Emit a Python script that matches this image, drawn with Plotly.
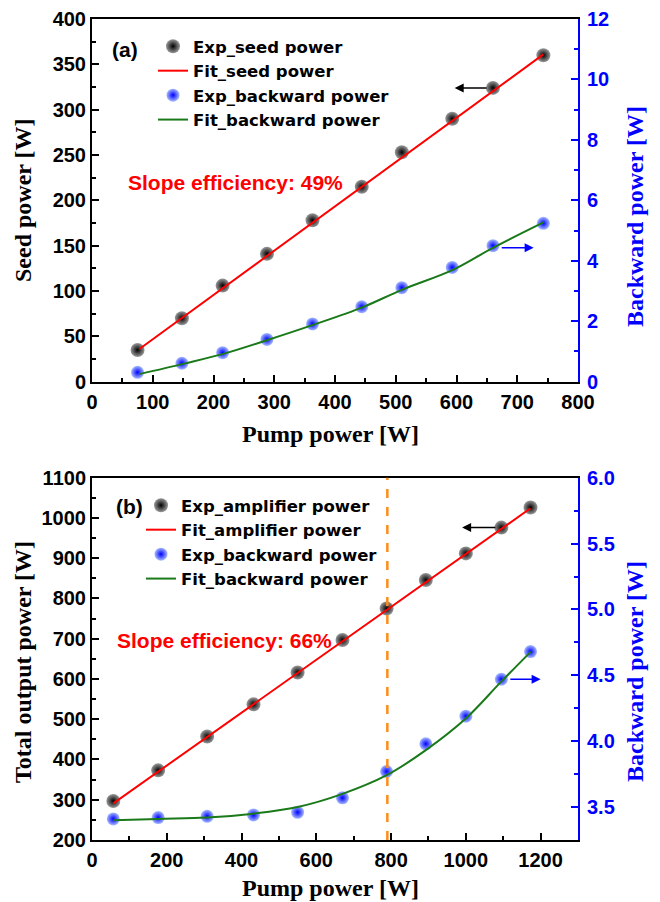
import plotly.graph_objects as go

# ---------------- data: panel (a) ----------------
pump_a = [75, 148, 215, 288, 363, 444, 510, 593, 660, 743]
seed_power = [35, 70, 106, 141, 178, 215, 253, 290, 324, 360]
backward_a = [0.31, 0.61, 0.96, 1.40, 1.91, 2.48, 3.11, 3.78, 4.50, 5.24]

fit_seed_x = [78, 743]
fit_seed_y = [36, 361]
fit_back_a_x = [78, 150, 216, 289, 364, 445, 510, 594, 660, 744]
fit_back_a_y = [0.25, 0.59, 0.92, 1.38, 1.88, 2.46, 3.04, 3.70, 4.43, 5.28]

# ---------------- data: panel (b) ----------------
pump_b = [57, 177, 308, 432, 550, 670, 788, 893, 1000, 1095, 1173]
amp_power = [297, 373, 457, 537, 616, 697, 775, 846, 912, 976, 1026]
backward_b = [3.41, 3.42, 3.43, 3.44, 3.46, 3.57, 3.77, 3.98, 4.19, 4.47, 4.68]

fit_amp_x = [57, 1173]
fit_amp_y = [291, 1024]
fit_back_b_x = [57, 177, 308, 432, 550, 670, 787, 892, 999, 1094, 1174]
fit_back_b_y = [3.40, 3.41, 3.42, 3.45, 3.50, 3.60, 3.74, 3.93, 4.17, 4.45, 4.68]

threshold_pump = 790

# ---------------- styling ----------------
W, H = 660, 902
PL, PR = 92, 578
TOP_A, BOT_A = 19, 381.7
TOP_B, BOT_B = 477.7, 840

def px_x(p):
    return p / W

def px_y(p):
    return 1 - p / H

SANS = "Liberation Sans, Arial, sans-serif"
LEG = "DejaVu Sans, Liberation Sans, sans-serif"
SERIF = "Liberation Serif, Times New Roman, serif"
BLUE = "#0000ff"

black_marker = dict(size=14, color="#9a9a9a", gradient=dict(type="radial", color="#000000"),
                    line=dict(width=0))
blue_marker = dict(size=13, color="#a8bcff", gradient=dict(type="radial", color=BLUE),
                   line=dict(width=0))

fig = go.Figure()

# panel (a)
fig.add_trace(go.Scatter(x=pump_a, y=seed_power, mode="markers", marker=black_marker,
                         name="Exp_seed power", xaxis="x", yaxis="y", legend="legend",
                         legendgroup="a1"))
fig.add_trace(go.Scatter(x=fit_seed_x, y=fit_seed_y, mode="lines", line=dict(color="#ff0000", width=2),
                         name="Fit_seed power", xaxis="x", yaxis="y", legend="legend",
                         legendgroup="a2"))
fig.add_trace(go.Scatter(x=pump_a, y=backward_a, mode="markers", marker=blue_marker,
                         name="Exp_backward power", xaxis="x", yaxis="y2", legend="legend",
                         legendgroup="a3"))
fig.add_trace(go.Scatter(x=fit_back_a_x, y=fit_back_a_y, mode="lines", line=dict(color="#1a7a1a", width=2, shape="spline"),
                         name="Fit_backward power", xaxis="x", yaxis="y2", legend="legend",
                         legendgroup="a4"))

# panel (b)
fig.add_trace(go.Scatter(x=pump_b, y=amp_power, mode="markers", marker=black_marker,
                         name="Exp_amplifier power", xaxis="x2", yaxis="y3", legend="legend2",
                         legendgroup="b1"))
fig.add_trace(go.Scatter(x=fit_amp_x, y=fit_amp_y, mode="lines", line=dict(color="#ff0000", width=2),
                         name="Fit_amplifier power", xaxis="x2", yaxis="y3", legend="legend2",
                         legendgroup="b2"))
fig.add_trace(go.Scatter(x=pump_b, y=backward_b, mode="markers", marker=blue_marker,
                         name="Exp_backward power", xaxis="x2", yaxis="y4", legend="legend2",
                         legendgroup="b3"))
fig.add_trace(go.Scatter(x=fit_back_b_x, y=fit_back_b_y, mode="lines", line=dict(color="#1a7a1a", width=2, shape="spline"),
                         name="Fit_backward power", xaxis="x2", yaxis="y4", legend="legend2",
                         legendgroup="b4"))

for i, tr in enumerate(fig.data):
    tr.legendrank = i

tickfont_k = dict(family=SANS, size=20, color="black", weight="bold")
tickfont_b = dict(family=SANS, size=20, color=BLUE, weight="bold")

common_x = dict(showline=True, linecolor="black", linewidth=2, mirror=True, ticks="inside",
                ticklen=7, tickwidth=2, tickcolor="black", showgrid=False, zeroline=False,
                tickfont=tickfont_k, automargin=False, ticklabelstandoff=1)
common_yl = dict(showline=True, linecolor="black", linewidth=2, ticks="inside",
                 ticklen=7, tickwidth=2, tickcolor="black", showgrid=False, zeroline=False,
                 tickfont=tickfont_k, automargin=False)
common_yr = dict(showline=True, linecolor=BLUE, linewidth=2, ticks="inside",
                 ticklen=7, tickwidth=2, tickcolor=BLUE, showgrid=False, zeroline=False,
                 tickfont=tickfont_b, side="right", automargin=False, ticklabelstandoff=3)

dom_x = [px_x(PL), px_x(PR)]
dom_a = [px_y(BOT_A), px_y(TOP_A)]
dom_b = [px_y(BOT_B), px_y(TOP_B)]

legend_font = dict(family=LEG, size=16.5, color="black", weight="bold")

fig.update_layout(
    width=W, height=H, margin=dict(l=0, r=0, t=0, b=0, autoexpand=False),
    paper_bgcolor="white", plot_bgcolor="white",
    xaxis=dict(domain=dom_x, anchor="y", range=[0, 800], dtick=100,
               minor=dict(dtick=50, ticks="inside", ticklen=4, tickwidth=2, tickcolor="black"), **common_x),
    yaxis=dict(domain=dom_a, anchor="x", range=[0, 400], dtick=50,
               minor=dict(dtick=25, ticks="inside", ticklen=4, tickwidth=2, tickcolor="black"), **common_yl),
    yaxis2=dict(anchor="x", overlaying="y", range=[0, 12], dtick=2,
                minor=dict(dtick=1, ticks="inside", ticklen=4, tickwidth=2, tickcolor=BLUE), **common_yr),
    xaxis2=dict(domain=dom_x, anchor="y3", range=[0, 1300], dtick=200,
                minor=dict(dtick=100, ticks="inside", ticklen=4, tickwidth=2, tickcolor="black"), **common_x),
    yaxis3=dict(domain=dom_b, anchor="x2", range=[200, 1100], dtick=100,
                minor=dict(dtick=50, ticks="inside", ticklen=4, tickwidth=2, tickcolor="black"), **common_yl),
    yaxis4=dict(anchor="x2", overlaying="y3", range=[3.25, 6.0], tick0=3.5, dtick=0.5, tickformat=".1f",
                minor=dict(tick0=3.25, dtick=0.25, ticks="inside", ticklen=4, tickwidth=2, tickcolor=BLUE), **common_yr),
    legend=dict(x=px_x(153), y=px_y(29), xanchor="left", yanchor="top", bgcolor="rgba(0,0,0,0)",
                font=legend_font, tracegroupgap=0, itemwidth=30),
    legend2=dict(x=px_x(141), y=px_y(488), xanchor="left", yanchor="top", bgcolor="rgba(0,0,0,0)",
                 font=legend_font, tracegroupgap=0, itemwidth=30),
    showlegend=True,
)

ann = []
lab_font = dict(family=SANS, size=21, color="black", weight="bold")
ann.append(dict(text="(a)", x=px_x(110), y=px_y(49), xref="paper", yref="paper", xanchor="left",
                yanchor="middle", showarrow=False, font=lab_font))
ann.append(dict(text="(b)", x=px_x(114), y=px_y(506), xref="paper", yref="paper", xanchor="left",
                yanchor="middle", showarrow=False, font=lab_font))
slope_font = dict(family=SANS, size=21, color="#ff0000", weight="bold")
ann.append(dict(text="Slope efficiency: 49%", x=px_x(126), y=px_y(182), xref="paper", yref="paper",
                xanchor="left", yanchor="middle", showarrow=False, font=slope_font))
ann.append(dict(text="Slope efficiency: 66%", x=px_x(115), y=px_y(640), xref="paper", yref="paper",
                xanchor="left", yanchor="middle", showarrow=False, font=slope_font))
# axis titles
tfont_k = dict(family=SERIF, size=24, color="black", weight="bold")
tfont_b = dict(family=SERIF, size=24, color=BLUE, weight="bold")
ann.append(dict(text="Pump power [W]", x=px_x(330), y=px_y(434), xref="paper", yref="paper",
                xanchor="center", yanchor="middle", showarrow=False, font=tfont_k))
ann.append(dict(text="Pump power [W]", x=px_x(330), y=px_y(888), xref="paper", yref="paper",
                xanchor="center", yanchor="middle", showarrow=False, font=tfont_k))
ann.append(dict(text="Seed power [W]", x=px_x(23), y=px_y(200), xref="paper", yref="paper",
                xanchor="center", yanchor="middle", showarrow=False, textangle=-90, font=tfont_k))
ann.append(dict(text="Total output power [W]", x=px_x(23), y=px_y(662), xref="paper", yref="paper",
                xanchor="center", yanchor="middle", showarrow=False, textangle=-90, font=tfont_k))
ann.append(dict(text="Backward power [W]", x=px_x(635), y=px_y(217), xref="paper", yref="paper",
                xanchor="center", yanchor="middle", showarrow=False, textangle=-90, font=tfont_b))
ann.append(dict(text="Backward power [W]", x=px_x(635), y=px_y(672), xref="paper", yref="paper",
                xanchor="center", yanchor="middle", showarrow=False, textangle=-90, font=tfont_b))

# arrows pointing to the axes
arrow_kw = dict(text="", showarrow=True, arrowhead=2, arrowsize=1.2, arrowwidth=1.5)
ann.append(dict(x=597, y=324, ax=652, ay=324, xref="x", yref="y", axref="x", ayref="y",
                arrowcolor="black", **arrow_kw))
ann.append(dict(x=727, y=4.43, ax=672, ay=4.43, xref="x", yref="y2", axref="x", ayref="y2",
                arrowcolor=BLUE, **arrow_kw))
ann.append(dict(x=990, y=976, ax=1083, ay=976, xref="x2", yref="y3", axref="x2", ayref="y3",
                arrowcolor="black", **arrow_kw))
ann.append(dict(x=1200, y=4.47, ax=1115, ay=4.47, xref="x2", yref="y4", axref="x2", ayref="y4",
                arrowcolor=BLUE, **arrow_kw))
fig.update_layout(annotations=ann)

fig.add_shape(type="line", x0=threshold_pump, x1=threshold_pump, y0=0, y1=1, xref="x2", yref="y3 domain",
              line=dict(color="#ff8c1a", width=2.5, dash="dash"))

fig.write_html("out.html", config={"displayModeBar": False},
               post_script="document.body.style.margin='0';document.body.style.padding='0';")
